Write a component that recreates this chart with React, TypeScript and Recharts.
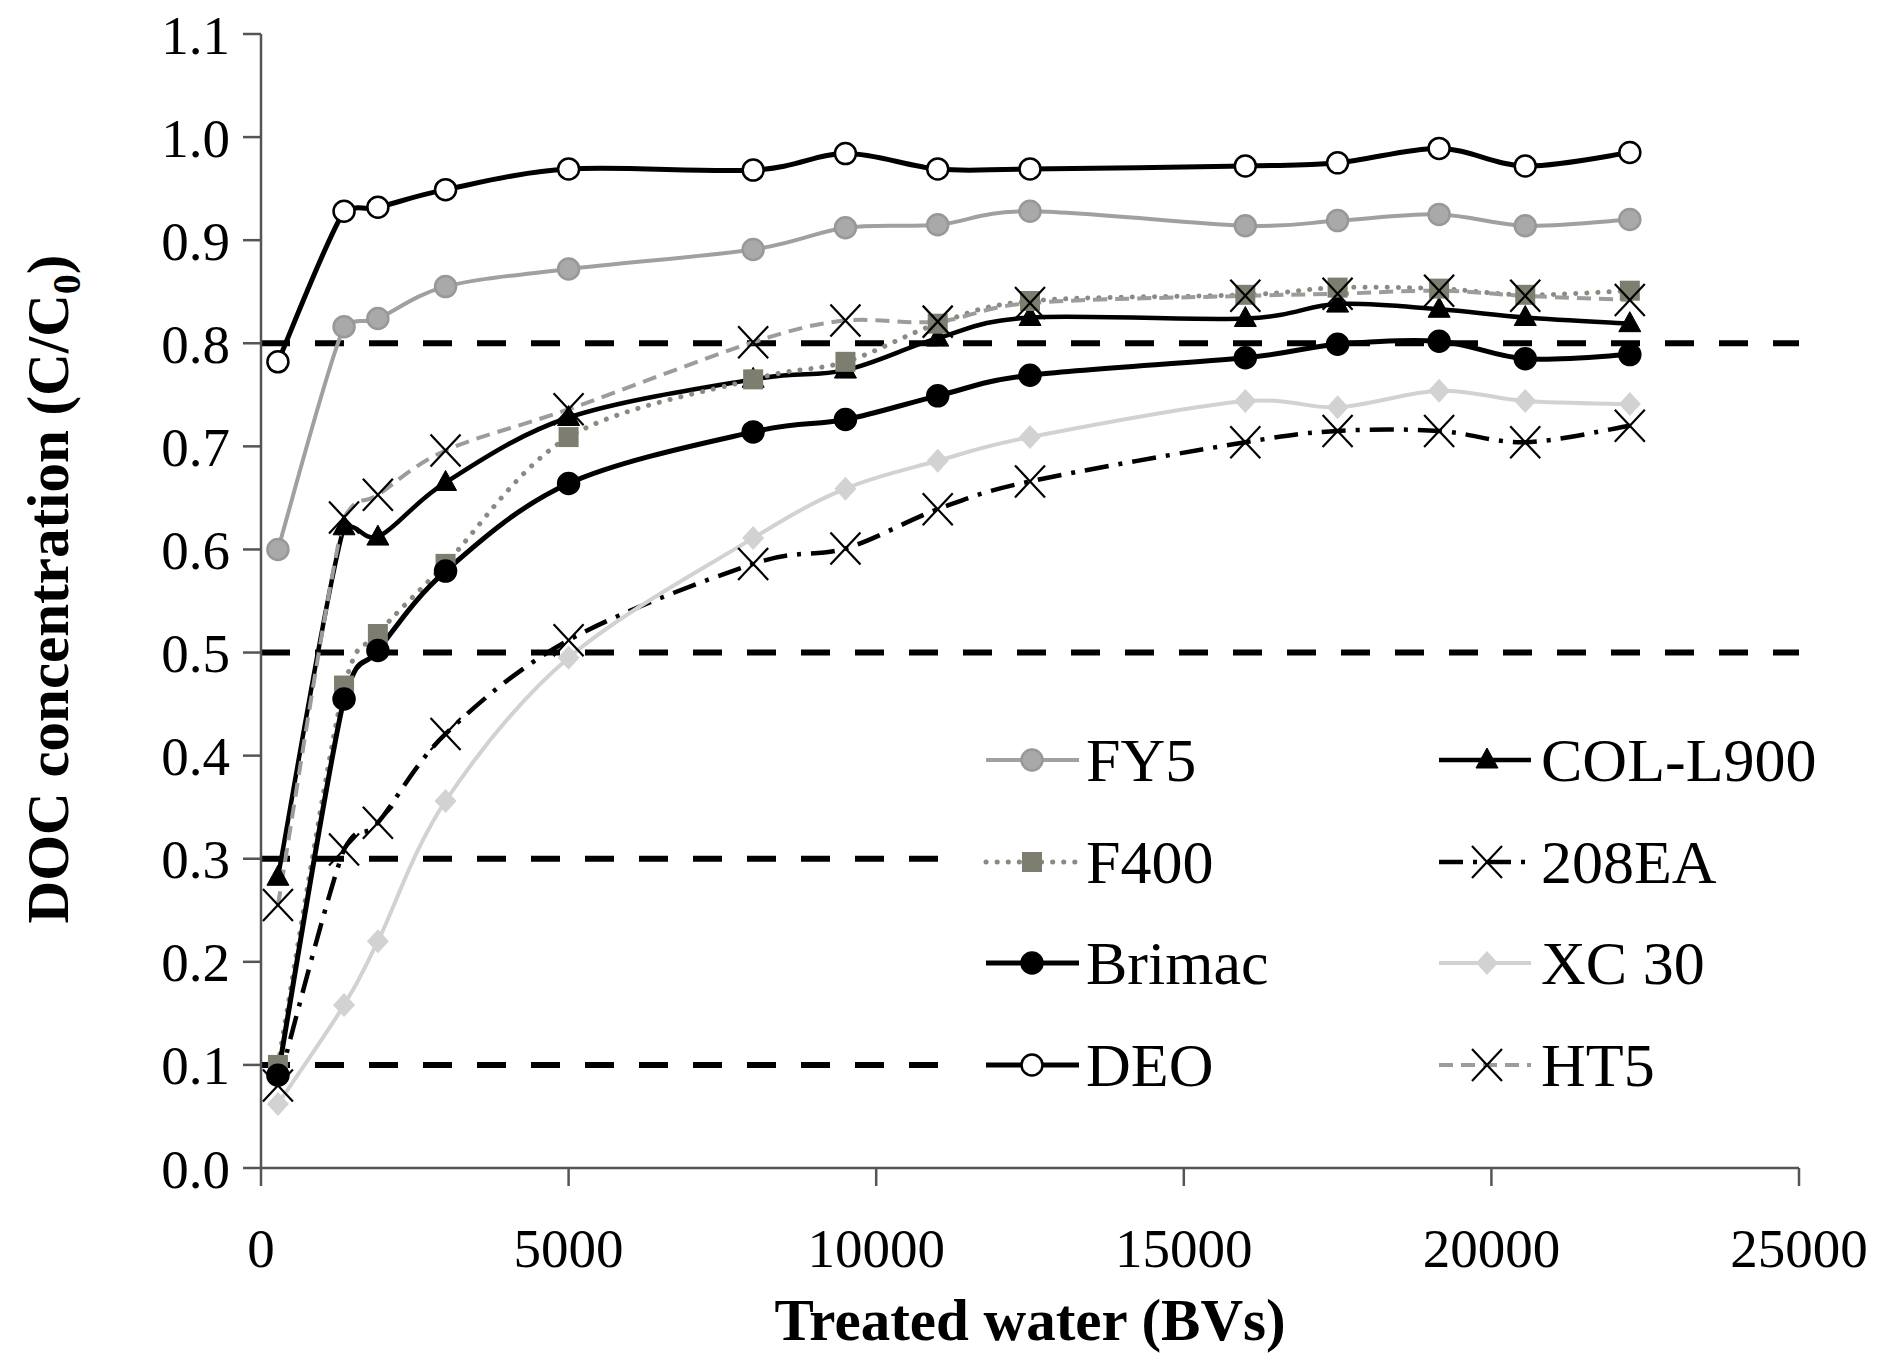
import { ComposedChart, Line, XAxis, YAxis, ReferenceLine, Legend } from 'recharts'

// Treated water (BVs) at each sampling point
const bvs = [275, 1350, 1900, 3000, 5000, 8000, 9500, 11000, 12500, 16000, 17500, 19150, 20550, 22250]

// DOC concentration C/C0 per adsorbent
const fy5     = [0.600, 0.816, 0.824, 0.855, 0.872, 0.891, 0.912, 0.915, 0.928, 0.914, 0.919, 0.925, 0.914, 0.920]
const colL900 = [0.282, 0.622, 0.612, 0.665, 0.728, 0.765, 0.774, 0.805, 0.825, 0.824, 0.838, 0.833, 0.825, 0.819]
const f400    = [0.100, 0.468, 0.518, 0.586, 0.709, 0.765, 0.782, 0.819, 0.841, 0.847, 0.854, 0.853, 0.847, 0.851]
const ea208   = [0.080, 0.309, 0.335, 0.421, 0.512, 0.586, 0.601, 0.639, 0.666, 0.704, 0.715, 0.715, 0.704, 0.720]
const brimac  = [0.090, 0.455, 0.502, 0.579, 0.664, 0.714, 0.726, 0.749, 0.769, 0.786, 0.799, 0.802, 0.785, 0.789]
const xc30    = [0.062, 0.158, 0.220, 0.356, 0.495, 0.611, 0.659, 0.686, 0.709, 0.744, 0.738, 0.754, 0.744, 0.741]
const deo     = [0.782, 0.928, 0.932, 0.949, 0.969, 0.968, 0.984, 0.969, 0.969, 0.972, 0.975, 0.989, 0.972, 0.985]
const ht5     = [0.255, 0.631, 0.653, 0.696, 0.736, 0.801, 0.822, 0.821, 0.839, 0.846, 0.848, 0.851, 0.846, 0.842]

const xTicks = [0, 5000, 10000, 15000, 20000, 25000]
const yTicks = [0, 0.1, 0.2, 0.3, 0.4, 0.5, 0.6, 0.7, 0.8, 0.9, 1.0, 1.1]
const refLevels = [0.8, 0.5, 0.3, 0.1]

type MarkerKind = 'circle' | 'triangle' | 'square' | 'diamond' | 'cross'

interface SeriesStyle {
  name: string
  values: number[]
  stroke: string
  width: number
  dash?: string
  cap?: 'round' | 'butt'
  marker: MarkerKind
  fill: string
  markerStroke: string
}

const series: SeriesStyle[] = [
  { name: 'FY5',      values: fy5,     stroke: '#a0a0a0', width: 4,   marker: 'circle',   fill: '#a9a9a9', markerStroke: '#989898' },
  { name: 'COL-L900', values: colL900, stroke: '#000',    width: 4.5, marker: 'triangle', fill: '#000',    markerStroke: '#000' },
  { name: 'F400',     values: f400,    stroke: '#8a8a80', width: 5,   dash: '0.1 11', cap: 'round', marker: 'square', fill: '#7d7e70', markerStroke: '#7d7e70' },
  { name: '208EA',    values: ea208,   stroke: '#000',    width: 4.5, dash: '24 10 4 10', marker: 'cross', fill: 'none', markerStroke: '#000' },
  { name: 'Brimac',   values: brimac,  stroke: '#000',    width: 5,   marker: 'circle',   fill: '#000',    markerStroke: '#000' },
  { name: 'XC 30',    values: xc30,    stroke: '#d2d2d2', width: 4,   marker: 'diamond',  fill: '#d2d2d2', markerStroke: '#d2d2d2' },
  { name: 'DEO',      values: deo,     stroke: '#000',    width: 5,   marker: 'circle',   fill: '#fff',    markerStroke: '#000' },
  { name: 'HT5',      values: ht5,     stroke: '#9c9c9c', width: 4,   dash: '14 8', marker: 'cross', fill: 'none', markerStroke: '#000' },
]

const legendCols = [['FY5', 'F400', 'Brimac', 'DEO'], ['COL-L900', '208EA', 'XC 30', 'HT5']]

const chartData = bvs.map((bv, i) => {
  const row: Record<string, number> = { bv }
  series.forEach(s => { row[s.name] = s.values[i] })
  return row
})

const FONT = '"Liberation Serif", "Times New Roman", serif'
const W = 1886
const H = 1356
const M = { top: 34, right: 95, left: 0, bottom: 0 }
const Y_AXIS_W = 253
const X_AXIS_H = 188
const AXIS = '#555'

const clamp = (v: number, a: number, b: number, pad: number) =>
  Math.min(Math.max(v, Math.min(a, b) - pad), Math.max(a, b) + pad)

// Excel-like smoothed line (Catmull-Rom Bezier), control points kept near each segment so
// closely spaced points do not loop
function excelSmooth(context: any) {
  let pts: [number, number][] = []
  return {
    areaStart() {},
    areaEnd() {},
    lineStart() { pts = [] },
    point(x: number, y: number) { pts.push([+x, +y]) },
    lineEnd() {
      if (!pts.length) return
      context.moveTo(pts[0][0], pts[0][1])
      for (let i = 0; i < pts.length - 1; i++) {
        const p0 = pts[Math.max(i - 1, 0)]
        const p1 = pts[i]
        const p2 = pts[i + 1]
        const p3 = pts[Math.min(i + 2, pts.length - 1)]
        const c1x = clamp(p1[0] + (p2[0] - p0[0]) / 6, p1[0], p2[0], 0)
        const c1y = clamp(p1[1] + (p2[1] - p0[1]) / 6, p1[1], p2[1], 3)
        const c2x = clamp(p2[0] - (p3[0] - p1[0]) / 6, p1[0], p2[0], 0)
        const c2y = clamp(p2[1] - (p3[1] - p1[1]) / 6, p1[1], p2[1], 3)
        context.bezierCurveTo(c1x, c1y, c2x, c2y, p2[0], p2[1])
      }
    },
  }
}

function Marker({ kind, cx, cy, fill, stroke }: { kind: MarkerKind; cx: number; cy: number; fill: string; stroke: string }) {
  switch (kind) {
    case 'circle':
      return <circle cx={cx} cy={cy} r={10.5} fill={fill} stroke={stroke} strokeWidth={2.5} />
    case 'triangle':
      return <polygon points={`${cx},${cy - 12} ${cx - 11},${cy + 8} ${cx + 11},${cy + 8}`} fill={fill} stroke={stroke} strokeWidth={1} />
    case 'square':
      return <rect x={cx - 10} y={cy - 10} width={20} height={20} fill={fill} />
    case 'diamond':
      return <polygon points={`${cx},${cy - 12} ${cx + 11},${cy} ${cx},${cy + 12} ${cx - 11},${cy}`} fill={fill} />
    case 'cross':
      return (
        <g stroke={stroke} strokeWidth={2.2}>
          <line x1={cx - 15} y1={cy - 16} x2={cx + 15} y2={cy + 16} />
          <line x1={cx - 15} y1={cy + 16} x2={cx + 15} y2={cy - 16} />
        </g>
      )
  }
}

const dotFor = (s: SeriesStyle) => (p: any) => (
  <Marker key={`${s.name}-${p.index}`} kind={s.marker} cx={p.cx} cy={p.cy} fill={s.fill} stroke={s.markerStroke} />
)

function LegendBox() {
  const rows = [44, 146, 247, 349]
  const cols = [
    { x1: 36, x2: 129, mx: 82, tx: 136 },
    { x1: 489, x2: 581, mx: 537, tx: 591 },
  ]
  return (
    <svg width={890} height={400} style={{ display: 'block' }}>
      <rect width={890} height={400} fill="#fff" />
      {legendCols.map((names, ci) =>
        names.map((name, ri) => {
          const s = series.find(v => v.name === name)!
          const c = cols[ci]
          const y = rows[ri]
          return (
            <g key={name}>
              <line x1={c.x1} y1={y} x2={c.x2} y2={y} stroke={s.stroke} strokeWidth={s.width}
                strokeDasharray={s.dash} strokeLinecap={s.cap ?? 'butt'} />
              <Marker kind={s.marker} cx={c.mx} cy={y} fill={s.fill} stroke={s.markerStroke} />
              <text x={c.tx} y={y + 21} fontFamily={FONT} fontSize={62} fill="#000">{name}</text>
            </g>
          )
        })
      )}
    </svg>
  )
}

export default function App() {
  return (
    <div style={{ marginTop: -8 }}>
      <ComposedChart width={W} height={H} data={chartData} margin={M}>
        <XAxis
          dataKey="bv"
          type="number"
          domain={[0, 25000]}
          ticks={xTicks}
          interval={0}
          height={X_AXIS_H}
          stroke={AXIS}
          strokeWidth={2.5}
          tickSize={18}
          tickMargin={42}
          tick={{ fill: '#000', fontSize: 55, fontFamily: FONT }}
          label={() => (
            <text x={M.left + Y_AXIS_W + (W - M.left - M.right - Y_AXIS_W) / 2} y={H - X_AXIS_H + 172}
              textAnchor="middle" fontFamily={FONT} fontWeight="bold" fontSize={59} fill="#000">
              Treated water (BVs)
            </text>
          )}
        />
        <YAxis
          type="number"
          domain={[0, 1.1]}
          ticks={yTicks}
          interval={0}
          width={Y_AXIS_W}
          stroke={AXIS}
          strokeWidth={2.5}
          tickSize={18}
          tickMargin={13}
          tickFormatter={(v: number) => v.toFixed(1)}
          tick={{ fill: '#000', fontSize: 55, fontFamily: FONT }}
          label={() => (
            <text x={60} y={589} transform="rotate(-90 60 589)" textAnchor="middle"
              fontFamily={FONT} fontWeight="bold" fontSize={59} fill="#000">
              DOC concentration (C/C<tspan fontSize={40} dy={12}>0</tspan><tspan dy={-12}>)</tspan>
            </text>
          )}
        />

        {refLevels.map(v => (
          <ReferenceLine key={v} y={v} stroke="#000" strokeWidth={6} strokeDasharray="29 25" />
        ))}

        {series.map(s => (
          <Line
            key={s.name}
            dataKey={s.name}
            type={excelSmooth as any}
            stroke={s.stroke}
            strokeWidth={s.width}
            strokeDasharray={s.dash}
            strokeLinecap={s.cap ?? 'butt'}
            dot={dotFor(s)}
            activeDot={false}
            isAnimationActive={false}
          />
        ))}

        <Legend
          layout="horizontal"
          verticalAlign="middle"
          align="center"
          content={() => <LegendBox />}
          wrapperStyle={{ left: 942, top: 716, width: 890, height: 400 }}
        />
      </ComposedChart>
    </div>
  )
}
